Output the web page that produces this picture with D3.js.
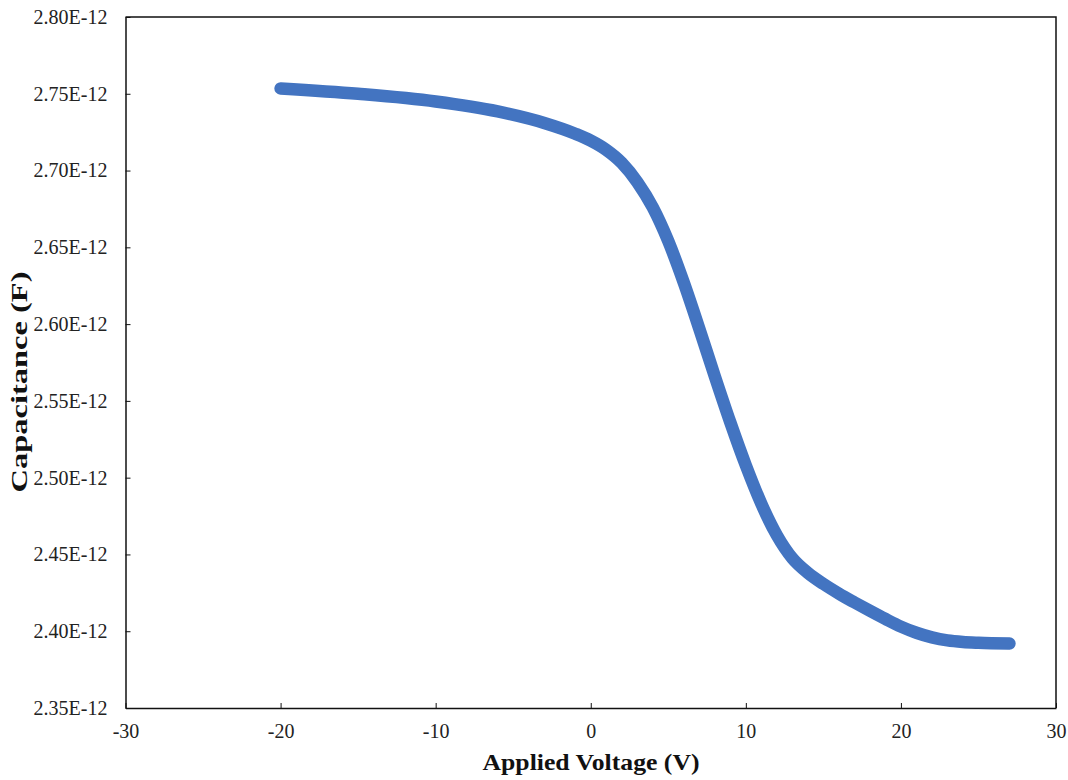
<!DOCTYPE html>
<html>
<head>
<meta charset="utf-8">
<script src="https://cdn.jsdelivr.net/npm/d3@7"></script>
<style>
  body { margin: 0; background: #fff; }
  svg text { font-family: "Liberation Serif", "Times New Roman", serif; }
</style>
</head>
<body>
<div id="chart"></div>
<script>
// applied voltage (V)
const voltage = [-20, -15, -10, -6, -3, -1, 0, 1, 2, 3, 4, 5, 6, 7, 8, 9, 10, 11, 12, 13, 14, 15, 16,
                 17, 18, 19, 20, 21, 22, 23, 24, 25, 27]
// capacitance (x1e-12 F)
const capacitance = [2.7535, 2.7500, 2.7450, 2.7385, 2.7310, 2.7240, 2.7195, 2.7135, 2.7050, 2.6925,
                     2.6760, 2.6540, 2.6270, 2.5970, 2.5660, 2.5360, 2.5080, 2.4830, 2.4625, 2.4475,
                     2.4380, 2.4308, 2.4245, 2.4188, 2.4133, 2.4080, 2.4030, 2.3990, 2.3960, 2.3940,
                     2.3930, 2.3925, 2.3920]

const xTicks = [-30, -20, -10, 0, 10, 20, 30]
const yTicks = [2.35, 2.40, 2.45, 2.50, 2.55, 2.60, 2.65, 2.70, 2.75, 2.80]

const width = 1068, height = 780
const margin = {left: 125.5, right: 12, top: 17, bottom: 72}

const svg = d3.select('#chart')
              .append('svg')
              .attr('width', width)
              .attr('height', height)

const x = d3.scaleLinear().domain([-30, 30]).range([margin.left, width - margin.right])
const y = d3.scaleLinear().domain([2.35, 2.80]).range([height - margin.bottom, margin.top])

// y axis, ticks pointing inwards
svg.append('g')
   .attr('transform', `translate(${margin.left},0)`)
   .call(d3.axisLeft(y).tickValues(yTicks).tickSizeInner(-5).tickSizeOuter(0).tickPadding(18)
          .tickFormat(d => d.toFixed(2) + 'E-12'))
   .call(g => g.select('.domain').attr('stroke', '#111').attr('stroke-width', 1.5))
   .call(g => g.selectAll('.tick line').attr('stroke', '#111'))
   .call(g => g.selectAll('.tick text').style('font-size', '20px').attr('fill', '#222')
              .style('font-family', '"Liberation Serif", serif'))

// x axis
svg.append('g')
   .attr('transform', `translate(0,${height - margin.bottom})`)
   .call(d3.axisBottom(x).tickValues(xTicks).tickSizeInner(-5).tickSizeOuter(0).tickPadding(16)
          .tickFormat(d => String(d)))
   .call(g => g.select('.domain').attr('stroke', '#111').attr('stroke-width', 1.5))
   .call(g => g.selectAll('.tick line').attr('stroke', '#111'))
   .call(g => g.selectAll('.tick text').style('font-size', '20px').attr('fill', '#222')
              .style('font-family', '"Liberation Serif", serif'))

// top and right border
svg.append('path')
   .attr('d', `M${x(-30)},${y(2.80)}H${x(30)}V${y(2.35)}`)
   .attr('fill', 'none')
   .attr('stroke', '#111')
   .attr('stroke-width', 1.5)

// the C-V curve
const line = d3.line()
               .x((d, i) => x(voltage[i]))
               .y(d => y(d))
               .curve(d3.curveMonotoneX)

svg.append('path')
   .datum(capacitance)
   .attr('d', line)
   .attr('fill', 'none')
   .attr('stroke', '#4374c1')
   .attr('stroke-width', 12.5)
   .attr('stroke-linecap', 'round')
   .attr('stroke-linejoin', 'round')

// axis titles
svg.append('text')
   .attr('x', 591)
   .attr('y', 770)
   .attr('text-anchor', 'middle')
   .attr('font-size', '23px')
   .attr('font-weight', 'bold')
   .attr('fill', '#111')
   .attr('textLength', 217)
   .attr('lengthAdjust', 'spacingAndGlyphs')
   .text('Applied Voltage (V)')

svg.append('text')
   .attr('transform', 'translate(27,382) rotate(-90)')
   .attr('text-anchor', 'middle')
   .attr('font-size', '23px')
   .attr('font-weight', 'bold')
   .attr('fill', '#111')
   .attr('textLength', 221)
   .attr('lengthAdjust', 'spacingAndGlyphs')
   .text('Capacitance (F)')
</script>
</body>
</html>
